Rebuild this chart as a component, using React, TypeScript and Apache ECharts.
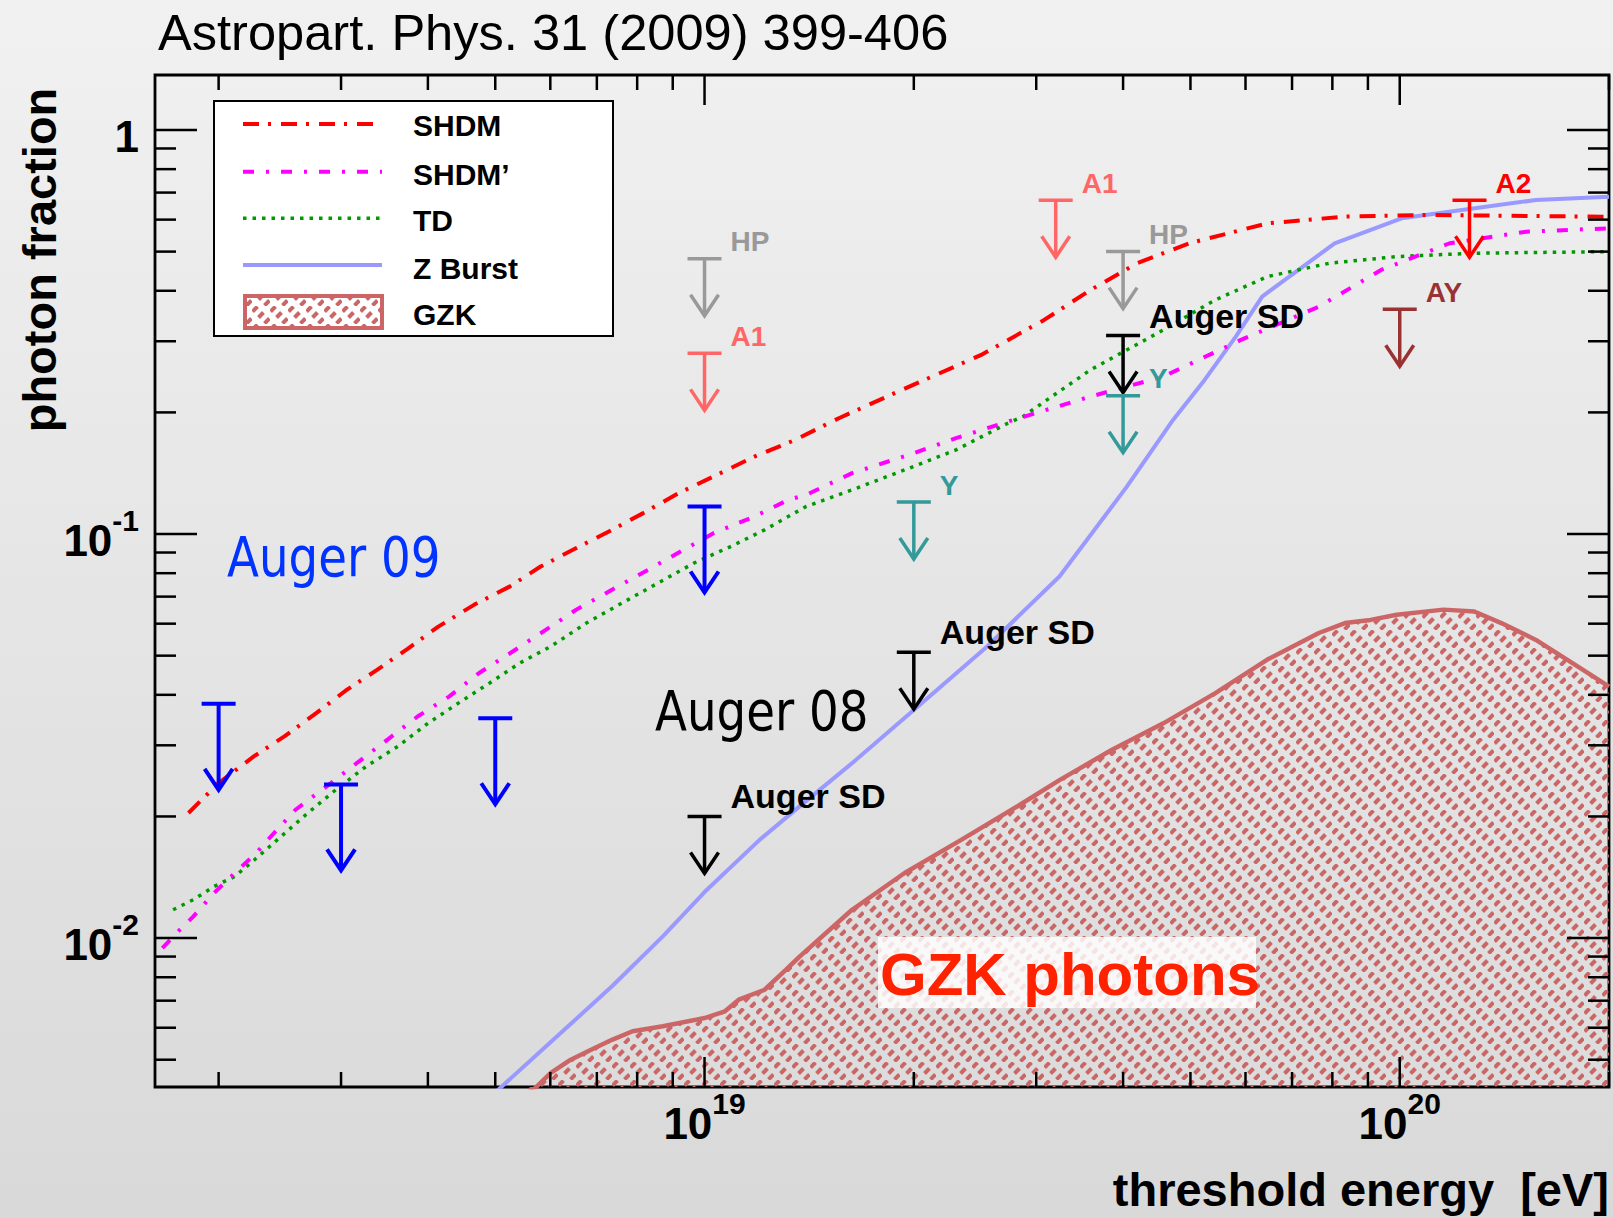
import React, { useEffect, useRef } from 'react';
import * as echarts from 'echarts';

// ---------- axis ranges ----------
const X_MIN = 1.62e18;
const X_MAX = 2e20;
const Y_MIN = 0.00428;
const Y_MAX = 1.368;

// ---------- model curves (threshold energy [eV], photon fraction) ----------
const shdmE = [1.81e18, 2.0e18, 2.25e18, 2.49e18, 2.76e18, 3.06e18, 3.38e18, 3.74e18, 4.14e18, 4.66e18, 5.25e18, 5.81e18, 6.54e18, 7.36e18, 8.15e18, 9.18e18, 1.03e19, 1.18e19, 1.35e19, 1.56e19, 1.97e19, 2.5e19, 3.08e19, 3.59e19, 4.2e19, 4.98e19, 6.45e19, 8.33e19, 1.08e20, 2.0e20];
const shdmF = [0.0204, 0.0242, 0.0282, 0.0316, 0.036, 0.0412, 0.0461, 0.052, 0.059, 0.0668, 0.0742, 0.0831, 0.0923, 0.1024, 0.1125, 0.1263, 0.1388, 0.1555, 0.171, 0.1935, 0.2317, 0.2775, 0.3388, 0.4018, 0.4688, 0.5244, 0.5874, 0.6103, 0.6162, 0.61];

const shdmPE = [1.66e18, 1.75e18, 1.84e18, 1.97e18, 2.11e18, 2.27e18, 2.35e18, 2.58e18, 2.86e18, 3.16e18, 3.5e18, 3.87e18, 4.29e18, 4.74e18, 5.25e18, 5.91e18, 6.54e18, 7.36e18, 8.29e18, 9.33e18, 1.03e19, 1.18e19, 1.32e19, 1.4e19, 1.63e19, 2.0e19, 2.3e19, 2.73e19, 3.59e19, 4.57e19, 5.91e19, 7.65e19, 9.4e19, 1.18e20, 1.52e20, 2.0e20];
const shdmPF = [0.00945, 0.01039, 0.01132, 0.01293, 0.01449, 0.0163, 0.01745, 0.02078, 0.02373, 0.0271, 0.031, 0.0354, 0.0396, 0.0453, 0.0507, 0.0579, 0.065, 0.0728, 0.0815, 0.0914, 0.1005, 0.1105, 0.1215, 0.125, 0.1415, 0.1585, 0.1727, 0.1898, 0.2189, 0.2453, 0.3023, 0.3654, 0.4503, 0.5244, 0.5602, 0.571];

const tdE = [1.72e18, 1.84e18, 1.97e18, 2.11e18, 2.25e18, 2.41e18, 2.67e18, 2.95e18, 3.26e18, 3.62e18, 4.0e18, 4.43e18, 4.91e18, 5.42e18, 6.01e18, 6.76e18, 7.61e18, 8.57e18, 9.65e18, 1.09e19, 1.22e19, 1.4e19, 1.63e19, 1.94e19, 2.3e19, 2.73e19, 2.87e19, 3.59e19, 4.57e19, 5.43e19, 6.45e19, 7.92e19, 9.9e19, 1.28e20, 2.0e20];
const tdF = [0.01175, 0.01245, 0.01342, 0.01421, 0.0156, 0.0173, 0.0202, 0.0233, 0.0266, 0.0298, 0.034, 0.0382, 0.0428, 0.0479, 0.0527, 0.0602, 0.0675, 0.0756, 0.0847, 0.0931, 0.1024, 0.117, 0.1286, 0.1441, 0.1615, 0.188, 0.1953, 0.2548, 0.3199, 0.3797, 0.4336, 0.468, 0.486, 0.4955, 0.5];

const zbE = [4.75e18, 6.21e18, 7.36e18, 8.71e18, 1.0e19, 1.2e19, 1.37e19, 1.63e19, 2.0e19, 2.55e19, 3.24e19, 4.05e19, 4.72e19, 5.24e19, 5.81e19, 6.34e19, 8.06e19, 1.006e20, 1.57e20, 2.0e20];
const zbF = [0.00383, 0.00582, 0.0076, 0.0101, 0.013, 0.0175, 0.02118, 0.0271, 0.0367, 0.0527, 0.0785, 0.131, 0.1916, 0.2407, 0.308, 0.387, 0.524, 0.6047, 0.671, 0.684];

const gzkE = [5.5e18, 6.01e18, 6.42e18, 6.88e18, 7.36e18, 7.88e18, 8.71e18, 1.0e19, 1.07e19, 1.12e19, 1.22e19, 1.31e19, 1.37e19, 1.63e19, 1.94e19, 2.34e19, 2.82e19, 3.24e19, 3.85e19, 4.57e19, 5.43e19, 6.45e19, 7.65e19, 8.34e19, 9.08e19, 9.9e19, 1.156e20, 1.28e20, 1.4e20, 1.57e20, 1.74e20, 1.93e20, 2.0e20];
const gzkF = [0.004, 0.00464, 0.005, 0.0053, 0.0056, 0.00588, 0.00605, 0.00634, 0.00659, 0.00704, 0.00745, 0.00835, 0.009, 0.01175, 0.01449, 0.0175, 0.0212, 0.0246, 0.0292, 0.034, 0.0404, 0.0489, 0.0569, 0.0602, 0.0613, 0.0631, 0.065, 0.0643, 0.0602, 0.0547, 0.0489, 0.0436, 0.0419];

// ---------- upper limits ----------
const auger09E = [2e18, 3e18, 5e18, 1e19];
const auger09F = [0.038, 0.024, 0.035, 0.117];
const augerSdE = [1e19, 2e19, 4e19];
const augerSdF = [0.02, 0.051, 0.31];
const hpE = [1e19, 4e19];
const hpF = [0.48, 0.5];
const a1E = [1e19, 3.2e19];
const a1F = [0.28, 0.67];
const yakE = [2e19, 4e19];
const yakF = [0.12, 0.22];
const a2E = [1.26e20];
const a2F = [0.67];
const ayE = [1e20];
const ayF = [0.36];

// ---------- tick values ----------
const xMajorTicks = [1e19, 1e20];
const xMinorTicks = [2e18, 3e18, 4e18, 5e18, 6e18, 7e18, 8e18, 9e18, 2e19, 3e19, 4e19, 5e19, 6e19, 7e19, 8e19, 9e19, 2e20];
const yMajorTicks = [0.01, 0.1, 1];
const yMinorTicks = [0.005, 0.006, 0.007, 0.008, 0.009, 0.02, 0.03, 0.04, 0.05, 0.06, 0.07, 0.08, 0.09, 0.2, 0.3, 0.4, 0.5, 0.6, 0.7, 0.8, 0.9];

const FONT = '"Liberation Sans", Arial, Helvetica, sans-serif';

function pairs(xs: number[], ys: number[]) {
  return xs.map((x, i) => [x, ys[i]]);
}

function hatch(bg: string | null) {
  const T = 18;
  const centers = [[T / 6, T / 6], [T / 2, T / 2], [(5 * T) / 6, (5 * T) / 6]];
  // rotated rectangles: half-length 3.5 along "/", half-width 2 across
  const hl = 3.5 / Math.SQRT2;
  const hw = 2 / Math.SQRT2;
  const offs = [[hl + hw, -hl + hw], [hl - hw, -hl - hw], [-hl - hw, hl - hw], [-hl + hw, hl + hw]];
  const polys = centers
    .map(([cx, cy]) => `<polygon points="${offs.map(([dx, dy]) => `${(cx + dx).toFixed(2)},${(cy + dy).toFixed(2)}`).join(' ')}"/>`)
    .join('');
  const bgRect = bg ? `<rect width="${T}" height="${T}" fill="${bg}"/>` : '';
  const svg = `<svg xmlns="http://www.w3.org/2000/svg" width="${T}" height="${T}" viewBox="0 0 ${T} ${T}">${bgRect}<g fill="#cc6666">${polys}</g></svg>`;
  return {
    image: 'data:image/svg+xml;charset=utf-8,' + encodeURIComponent(svg),
    repeat: 'repeat',
    imageWidth: T,
    imageHeight: T,
  };
}

function powLabel(v: number) {
  const l = Math.log10(v);
  const e = Math.round(l);
  if (Math.abs(l - e) > 1e-6) return '';
  return e === 0 ? '{b|1}' : `{b|10}{sup|${e}}`;
}

const RICH = {
  b: { fontSize: 44, fontWeight: 'bold', fontFamily: FONT, color: '#000', lineHeight: 44, verticalAlign: 'bottom' },
  sup: { fontSize: 30, fontWeight: 'bold', fontFamily: FONT, color: '#000', lineHeight: 30, verticalAlign: 'bottom', padding: [0, 0, 27, 0] },
};

function limitSeries(name: string, E: number[], F: number[], color: string, len: number, label: string, fontSize: number, lw: number, labelDy: number) {
  return {
    type: 'custom',
    name,
    coordinateSystem: 'cartesian2d',
    silent: true,
    clip: false,
    z: 6,
    encode: { x: 0, y: 1 },
    data: pairs(E, F),
    renderItem: (params: any, api: any) => {
      const p = api.coord([api.value(0), api.value(1)]);
      const x = p[0];
      const y = p[1];
      const st = { stroke: color, lineWidth: lw, fill: null };
      const children: any[] = [
        { type: 'line', shape: { x1: x - 17, y1: y, x2: x + 17, y2: y }, style: st },
        { type: 'line', shape: { x1: x, y1: y, x2: x, y2: y + len }, style: st },
        { type: 'polyline', shape: { points: [[x - 14, y + len - 21], [x, y + len], [x + 14, y + len - 21]] }, style: st },
      ];
      if (label) {
        children.push({
          type: 'text',
          x: x + 26,
          y: y + labelDy,
          style: {
            text: label, fill: color, font: `bold ${fontSize}px ${FONT}`,
            align: 'left', verticalAlign: 'middle', textAlign: 'left', textVerticalAlign: 'middle',
          },
        });
      }
      return { type: 'group', children };
    },
  };
}

function tickSeries() {
  const data: number[][] = [];
  xMajorTicks.forEach((v) => data.push([v, Y_MIN, 0, 1]));
  xMinorTicks.forEach((v) => data.push([v, Y_MIN, 0, 0]));
  yMajorTicks.forEach((v) => data.push([X_MIN, v, 1, 1]));
  yMinorTicks.forEach((v) => data.push([X_MIN, v, 1, 0]));
  return {
    type: 'custom',
    name: 'ticks',
    coordinateSystem: 'cartesian2d',
    silent: true,
    clip: false,
    z: 4,
    encode: { x: 0, y: 1 },
    data,
    renderItem: (params: any, api: any) => {
      const cs = params.coordSys;
      const orient = api.value(2);
      const major = api.value(3) === 1;
      const st = { stroke: '#000', lineWidth: 2.5 };
      if (orient === 0) {
        const px = api.coord([api.value(0), Y_MIN])[0];
        const L = major ? 30 : 15;
        const yb = cs.y + cs.height;
        return {
          type: 'group',
          children: [
            { type: 'line', shape: { x1: px, y1: yb, x2: px, y2: yb - L }, style: st },
            { type: 'line', shape: { x1: px, y1: cs.y, x2: px, y2: cs.y + L }, style: st },
          ],
        };
      }
      const py = api.coord([X_MIN, api.value(1)])[1];
      const L = major ? 42 : 21;
      const xr = cs.x + cs.width;
      return {
        type: 'group',
        children: [
          { type: 'line', shape: { x1: cs.x, y1: py, x2: cs.x + L, y2: py }, style: st },
          { type: 'line', shape: { x1: xr, y1: py, x2: xr - L, y2: py }, style: st },
        ],
      };
    },
  };
}

function txt(text: string, x: number, y: number, font: string, fill: string, align: string, extra: any = {}) {
  return {
    type: 'text',
    x,
    y,
    z: 20,
    silent: true,
    ...extra,
    style: { text, font, fill, align, verticalAlign: 'middle', textAlign: align, textVerticalAlign: 'middle' },
  };
}

export default function App() {
  const ref = useRef<HTMLDivElement>(null);

  useEffect(() => {
    document.body.style.margin = '0';
    const chart = echarts.init(ref.current as HTMLDivElement, undefined, { renderer: 'svg' });

    const legendX = 243;
    const legendX2 = 382;
    const legendTextX = 413;

    const option: any = {
      animation: false,
      backgroundColor: new echarts.graphic.LinearGradient(0, 0, 0, 1, [
        { offset: 0, color: '#f1f1f1' },
        { offset: 1, color: '#d9d9d9' },
      ]),
      grid: {
        left: 155, right: 4, top: 75, bottom: 131,
        show: true, borderColor: '#000', borderWidth: 2.8, backgroundColor: 'transparent',
      },
      xAxis: {
        type: 'log', logBase: 10, min: X_MIN, max: X_MAX,
        axisLine: { show: false }, axisTick: { show: false }, splitLine: { show: false },
        axisLabel: { margin: 14, formatter: powLabel, rich: RICH },
      },
      yAxis: {
        type: 'log', logBase: 10, min: Y_MIN, max: Y_MAX,
        axisLine: { show: false }, axisTick: { show: false }, splitLine: { show: false },
        axisLabel: { margin: 16, padding: [13, 0, 0, 0], formatter: powLabel, rich: RICH },
      },
      series: [
        {
          type: 'line', name: 'GZK', data: pairs(gzkE, gzkF), symbol: 'none', silent: true, z: 1,
          lineStyle: { color: '#cc6666', width: 4.5 },
          areaStyle: { color: hatch(null), opacity: 1, origin: 'start' },
        },
        {
          type: 'line', name: 'Z Burst', data: pairs(zbE, zbF), symbol: 'none', silent: true, z: 3,
          lineStyle: { color: '#9999ff', width: 4 },
        },
        {
          type: 'line', name: 'TD', data: pairs(tdE, tdF), symbol: 'none', silent: true, z: 3,
          lineStyle: { color: '#009900', width: 3.5, type: [3.5, 6] },
        },
        {
          type: 'line', name: 'SHDM’', data: pairs(shdmPE, shdmPF), symbol: 'none', silent: true, z: 3,
          lineStyle: { color: '#ff00ff', width: 4, type: [11, 12, 3, 12] },
        },
        {
          type: 'line', name: 'SHDM', data: pairs(shdmE, shdmF), symbol: 'none', silent: true, z: 3,
          lineStyle: { color: '#ff0000', width: 4, type: [16, 9, 3, 10] },
        },
        tickSeries(),
        limitSeries('Auger 09', auger09E, auger09F, '#0000ff', 86, '', 26, 4, -17),
        limitSeries('Auger SD', augerSdE, augerSdF, '#000000', 57, 'Auger SD', 34, 3.5, -20),
        limitSeries('HP', hpE, hpF, '#999999', 57, 'HP', 28, 3.5, -17),
        limitSeries('A1', a1E, a1F, '#ff6666', 57, 'A1', 28, 3.5, -17),
        limitSeries('Y', yakE, yakF, '#339999', 57, 'Y', 28, 3.5, -17),
        limitSeries('A2', a2E, a2F, '#ff0000', 57, 'A2', 28, 3.5, -17),
        limitSeries('AY', ayE, ayF, '#993333', 57, 'AY', 28, 3.5, -17),
      ],
      graphic: [
        txt('Astropart. Phys. 31 (2009) 399-406', 158, 32.7, `50.6px ${FONT}`, '#000', 'left'),
        txt('photon fraction', 39.5, 260, `bold 47px ${FONT}`, '#000', 'center', { rotation: Math.PI / 2 }),
        txt('threshold energy  [eV]', 1609, 1189, `bold 47px ${FONT}`, '#000', 'right'),
        // legend box
        {
          type: 'rect', z: 15, silent: true,
          shape: { x: 214, y: 101, width: 399, height: 235 },
          style: { fill: '#ffffff', stroke: '#000', lineWidth: 2 },
        },
        { type: 'line', z: 16, silent: true, shape: { x1: legendX, y1: 124, x2: legendX2, y2: 124 }, style: { stroke: '#ff0000', lineWidth: 4, lineDash: [16, 9, 3, 10] } },
        { type: 'line', z: 16, silent: true, shape: { x1: legendX, y1: 171.7, x2: legendX2, y2: 171.7 }, style: { stroke: '#ff00ff', lineWidth: 4, lineDash: [11, 12, 3, 12] } },
        { type: 'line', z: 16, silent: true, shape: { x1: legendX, y1: 218.3, x2: legendX2, y2: 218.3 }, style: { stroke: '#009900', lineWidth: 3.5, lineDash: [3.5, 6] } },
        { type: 'line', z: 16, silent: true, shape: { x1: legendX, y1: 265, x2: legendX2, y2: 265 }, style: { stroke: '#9999ff', lineWidth: 4 } },
        {
          type: 'rect', z: 16, silent: true,
          shape: { x: 245, y: 296, width: 137, height: 32 },
          style: { fill: hatch('#ffffff'), stroke: '#cc6666', lineWidth: 4 },
        },
        txt('SHDM', legendTextX, 125.8, `bold 30px ${FONT}`, '#000', 'left'),
        txt('SHDM’', legendTextX, 174, `bold 30px ${FONT}`, '#000', 'left'),
        txt('TD', legendTextX, 220.7, `bold 30px ${FONT}`, '#000', 'left'),
        txt('Z Burst', legendTextX, 268, `bold 30px ${FONT}`, '#000', 'left'),
        txt('GZK', legendTextX, 314, `bold 30px ${FONT}`, '#000', 'left'),
        // annotations
        txt('Auger 09', 227, 557, '55px "DejaVu Sans", Verdana, sans-serif', '#0033ff', 'left', { scaleX: 0.85 }),
        txt('Auger 08', 655, 711.5, '55px "DejaVu Sans", Verdana, sans-serif', '#000000', 'left', { scaleX: 0.85 }),
        {
          type: 'rect', z: 18, silent: true,
          shape: { x: 878, y: 937, width: 378, height: 71 },
          style: { fill: 'rgba(255,255,255,0.82)' },
        },
        txt('GZK photons', 880, 974, `bold 60px ${FONT}`, '#ff2200', 'left'),
      ],
    };

    chart.setOption(option);
    return () => chart.dispose();
  }, []);

  return <div ref={ref} style={{ position: 'absolute', left: 0, top: 0, width: 1613, height: 1218 }} />;
}
